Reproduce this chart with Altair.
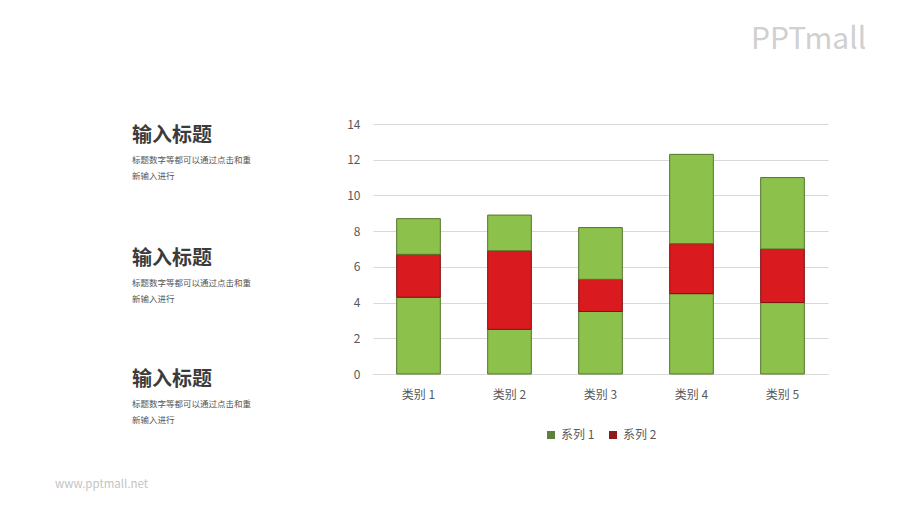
import altair as alt
import pandas as pd

categories = ["类别 1", "类别 2", "类别 3", "类别 4", "类别 5"]
series_names = ["系列 1", "系列 2", "系列 3"]
series1 = [4.3, 2.5, 3.5, 4.5, 4.0]
series2 = [2.4, 4.4, 1.8, 2.8, 3.0]
series3 = [2.0, 2.0, 2.9, 5.0, 4.0]
y_ticks = [0, 2, 4, 6, 8, 10, 12, 14]
legend_shown = ["系列 1", "系列 2"]
block_title = "输入标题"
block_line1 = "标题数字等都可以通过点击和重"
block_line2 = "新输入进行"
logo_text = "PPTmall"
site_text = "www.pptmall.net"

FONT = "Noto Sans CJK SC"
GREEN = "#8cc14b"
RED = "#d91a1f"
GREEN_D = "#55752e"
RED_D = "#7f1212"
GREEN_L = "#5f7f3c"
RED_L = "#8c1a1a"

rows = []
for i, c in enumerate(categories):
    for k, (s, vals) in enumerate(zip(series_names, [series1, series2, series3])):
        rows.append({"类别": c, "系列": s, "值": vals[i], "ord": k})
df = pd.DataFrame(rows)

bars = alt.Chart(df).mark_bar(strokeWidth=1).encode(
    x=alt.X("类别:N", sort=categories,
            scale=alt.Scale(paddingInner=0.52, paddingOuter=0.26),
            axis=alt.Axis(title=None, labelAngle=0, ticks=False, domainColor="#d9d9d9",
                          labelPadding=15, labelFontSize=12, labelColor="#595959")),
    y=alt.Y("值:Q", stack="zero", scale=alt.Scale(domain=[0, 14], nice=False),
            axis=alt.Axis(values=y_ticks, title=None, domain=False, ticks=False,
                          gridColor="#d9d9d9", labelPadding=13, labelFontSize=12,
                          labelColor="#595959")),
    color=alt.Color("系列:N", scale=alt.Scale(domain=series_names, range=[GREEN, RED, GREEN]),
                    legend=None),
    stroke=alt.Stroke("系列:N", scale=alt.Scale(domain=series_names, range=[GREEN_D, RED_D, GREEN_D]),
                      legend=None),
    order=alt.Order("ord:Q", sort="ascending"),
)

leg_df = pd.DataFrame({"系列": legend_shown})
legend_layer = alt.Chart(leg_df).mark_bar().encode(
    x=alt.value(0), x2=alt.value(0),
    y=alt.value(250), y2=alt.value(250),
    fill=alt.Fill("系列:N", scale=alt.Scale(domain=legend_shown, range=[GREEN_L, RED_L]),
                  legend=alt.Legend(title=None, orient="none",
                                    legendX=172, legendY=305, direction="horizontal",
                                    symbolType="square", symbolSize=64, labelFontSize=12,
                                    labelColor="#595959", columnPadding=12, padding=0,
                                    symbolStrokeWidth=0)),
)

one = pd.DataFrame({"k": [0]})


def txt(text, x, y, size, color, weight="normal"):
    return alt.Chart(one).mark_text(text=text, align="left", baseline="middle", fontSize=size,
                                    color=color, fontWeight=weight, font=FONT).encode(
        x=alt.value(x), y=alt.value(y))


layers = [bars, legend_layer]
for base in [12, 135, 256]:
    layers.append(txt(block_title, -241, base, 20, "#3b3b3b", "bold"))
    layers.append(txt(block_line1, -241, base + 24, 8.5, "#555555"))
    layers.append(txt(block_line2, -241, base + 40, 8.5, "#555555"))
layers.append(txt(logo_text, 378, -84, 30, "#d0d0d0"))
layers.append(txt(site_text, -318, 361, 11.5, "#c4c4c4"))

chart = alt.layer(*layers).properties(
    width=455, height=250,
    autosize=alt.AutoSizeParams(type="none"),
    padding={"left": 365, "top": 116, "right": 60, "bottom": 120},
).configure(font=FONT).configure_view(stroke=None)

chart.save("out.html", embed_options={"renderer": "svg", "actions": False})
